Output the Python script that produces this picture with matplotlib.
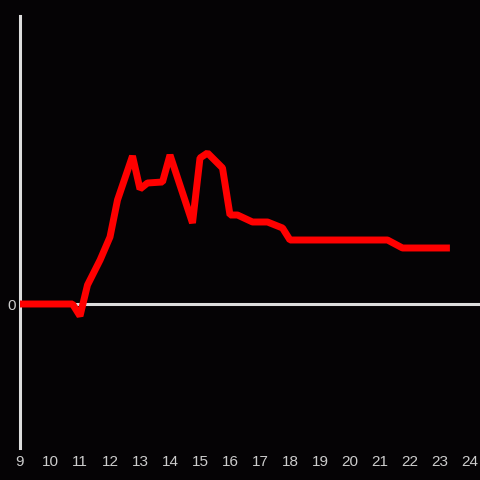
import matplotlib
matplotlib.use("Agg")
import matplotlib.pyplot as plt

hours = [9.0, 10.75, 11.0, 11.25, 11.67, 12.0, 12.25, 12.75, 13.0, 13.25, 13.75, 14.0,
         14.75, 15.0, 15.25, 15.75, 16.0, 16.25, 16.75, 17.25, 17.75, 18.0, 21.25, 21.75, 23.33]
values = [0, 0, -12, 19, 44, 67, 104, 148, 115, 121, 122, 149,
          81, 146, 151, 136, 89, 89, 82, 82, 76, 64, 64, 56, 56]
xticks = list(range(9, 25))

bg = "#050305"
fig = plt.figure(figsize=(4.8, 4.8), dpi=100, facecolor=bg)
ax = fig.add_axes([20/480, 32/480, 460/480, 432/480], facecolor=bg)
ax.set_xlim(9, 9 + 460/30)
ax.set_ylim(-144, 288)

for s in ["top", "right", "bottom"]:
    ax.spines[s].set_visible(False)
ax.spines["left"].set_color("#dddddd")
ax.spines["left"].set_linewidth(2.2)

ax.axhline(0, color="#dddddd", lw=2.2, zorder=1)
ax.plot(hours, values, color="#ff0000", lw=5, zorder=3,
        solid_joinstyle="bevel", solid_capstyle="butt")

ax.set_xticks(xticks)
ax.set_xticklabels([str(t) for t in xticks])
ax.set_yticks([0])
ax.set_yticklabels(["0"])
ax.tick_params(axis="both", length=0, colors="#cccccc", labelsize=11)
ax.tick_params(axis="x", pad=5)
ax.tick_params(axis="y", pad=3)
for lbl in ax.get_xticklabels() + ax.get_yticklabels():
    lbl.set_fontfamily("Liberation Sans")

fig.savefig("out.png", dpi=100, facecolor=bg)
